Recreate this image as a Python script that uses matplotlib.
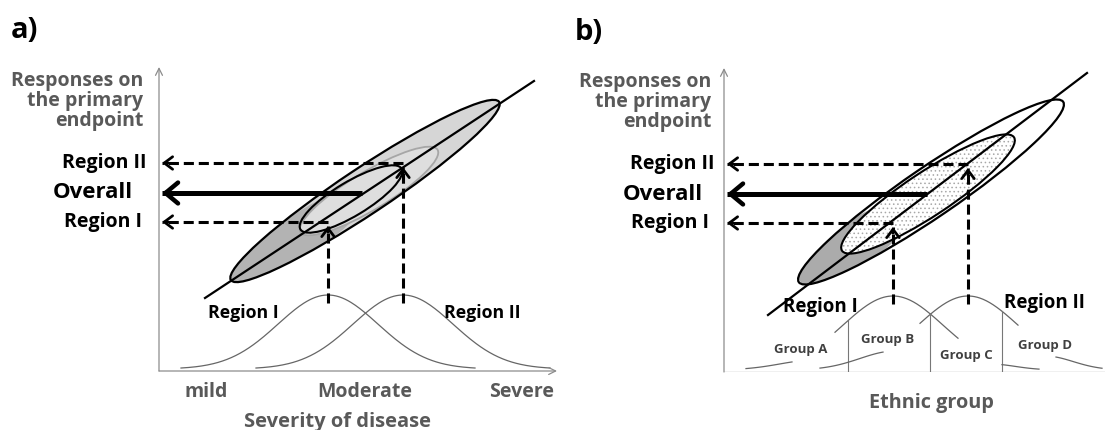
import numpy as np
import matplotlib.pyplot as plt
from matplotlib.patches import Ellipse

plt.rcParams['font.family'] = ['Open Sans', 'DejaVu Sans']
plt.rcParams['hatch.linewidth'] = 0.6

# --- values shared by both schematics (pixel units from each axis origin) ---
level_names = ['Region II', 'Overall', 'Region I']
level_y = [208, 178, 149]          # responses
peak_x = [169, 244]                # Region I / Region II means on the x axis
curve_sigma = 50
curve_height = 74
curve_base = 2
overall_end = 203

# --- panel a: severity of disease ---
sev_ticks = ['mild', 'Moderate', 'Severe']
sev_tick_x = [47, 206, 363]
a_line_x = [46, 375]
a_line_y = [73, 290]
a_curve_span = 147
# ellipses: centre x, centre y, width, height, angle
a_big = (206, 180, 322, 46, 33.6)
a_dark = (142, 136, 165, 42, 33.6)
a_reg2 = (210, 180, 160, 38, 31)
a_reg1 = (192, 172, 118, 34, 31)

# --- panel b: ethnic group ---
b_line_x = [44, 363]
b_line_y = [57, 299]
b_big = (207, 180, 320, 50, 34.3)
b_gray = (134, 130, 140, 44, 34.3)
b_inner = (204, 178, 206, 44, 33.4)
b_region_ranges = [(111, 234), (196, 294)]
group_names = ['Group A', 'Group B', 'Group C', 'Group D']
group_label_x = [77, 164, 242, 321]
group_label_y = [23, 32, 16, 27]
group_bounds = [124, 206, 278]
# visible tails of the group curves: centre, sigma, height, from, to
group_tails = [(91, 35, 10, 22, 68), (171, 35, 19, 96, 159),
               (266, 25, 6, 278, 315), (321, 28, 14, 332, 378)]

TXT = '#595959'
DASH = (0, (3.3, 1.6))


def gauss(x, c, s, h):
    return curve_base + h * np.exp(-(x - c) ** 2 / (2 * s ** 2))


def arrow(ax, start, end, lw, dashed, hl, hw):
    ax.plot([start[0], end[0]], [start[1], end[1]], color='black', lw=lw,
            ls=DASH if dashed else '-', solid_capstyle='butt', dash_capstyle='butt')
    d = np.subtract(end, start)
    d = d / np.hypot(*d)
    back = (end[0] - 6 * d[0], end[1] - 6 * d[1])
    ax.annotate('', xy=end, xytext=back,
                arrowprops=dict(arrowstyle=f'->,head_length={hl},head_width={hw}',
                                lw=lw * 0.9, color='black', shrinkA=0, shrinkB=0))


def axis_frame(ax, w, h, x_arrow):
    style = dict(color='#8c8c8c', lw=0.9, shrinkA=0, shrinkB=0)
    ax.annotate('', xy=(0, h), xytext=(0, 0),
                arrowprops=dict(arrowstyle='->,head_length=0.5,head_width=0.25', **style))
    if x_arrow:
        ax.annotate('', xy=(w, 0), xytext=(0, 0),
                    arrowprops=dict(arrowstyle='->,head_length=0.5,head_width=0.25', **style))
    else:
        ax.plot([0, w], [0, 0], color='#8c8c8c', lw=0.9)


def response_side(ax, right_x, letter, letter_x):
    ax.text(right_x[0], 270, 'Responses on\nthe primary\nendpoint', ha='right', va='center',
            multialignment='right', fontsize=14, fontweight='bold', color=TXT, linespacing=1.0)
    sizes = [14, 16, 14]
    for name, y, rx, fs in zip(level_names, level_y, right_x[1:], sizes):
        ax.text(rx, y, name, ha='right', va='center', fontsize=fs, fontweight='bold', color='black')
    ax.text(letter_x, 340, letter, ha='left', va='center', fontsize=21, fontweight='bold')
    # arrows back to the response axis
    for px, ly in zip(peak_x, [level_y[2], level_y[0]]):
        arrow(ax, (px, 68), (px, ly - 4), 2.2, True, 0.6, 0.45)
        arrow(ax, (px, ly), (3, ly), 2.2, True, 0.6, 0.45)
    arrow(ax, (overall_end, level_y[1]), (3, level_y[1]), 3.6, False, 0.9, 0.75)


def ellipse(ax, p, **kw):
    e = Ellipse((p[0], p[1]), p[2], p[3], angle=p[4], **kw)
    ax.add_patch(e)
    return e


fig = plt.figure(figsize=(11.1, 4.3), dpi=100)

# ---------------- panel a ----------------
ax = fig.add_axes([159 / 1110, 59 / 430, 398 / 1110, 304 / 430])
ax.set_xlim(0, 398)
ax.set_ylim(0, 304)
ax.set_axis_off()
axis_frame(ax, 398, 304, True)

big = ellipse(ax, a_big, fc='#d6d6d6', ec='none', zorder=1)
dark = ellipse(ax, a_dark, fc='#b3b3b3', ec='none', zorder=1.1)
dark.set_clip_path(big)
ellipse(ax, a_reg2, fc='#dedede', ec='#a6a6a6', lw=1.3, zorder=1.2)
ellipse(ax, a_reg1, fc='none', ec='black', lw=1.5, zorder=1.3)
ellipse(ax, a_big, fc='none', ec='black', lw=1.6, zorder=1.4)
ax.plot(a_line_x, a_line_y, color='black', lw=1.6, zorder=1.5)

for px in peak_x:
    xs = np.linspace(px - a_curve_span, px + a_curve_span, 200)
    ax.plot(xs, gauss(xs, px, curve_sigma, curve_height), color='#666666', lw=0.9)

response_side(ax, [-16, -12, -26, -17], 'a)', -148)
ax.text(84, 58, 'Region I', ha='center', va='center', fontsize=12.8, fontweight='bold')
ax.text(323, 58, 'Region II', ha='center', va='center', fontsize=12.8, fontweight='bold')
for t, x in zip(sev_ticks, sev_tick_x):
    ax.text(x, -21, t, ha='center', va='center', fontsize=14, fontweight='bold', color=TXT)
ax.text(178, -51, 'Severity of disease', ha='center', va='center', fontsize=14.5,
        fontweight='bold', color=TXT)

# ---------------- panel b ----------------
bx = fig.add_axes([724 / 1110, 58 / 430, 381 / 1110, 304 / 430])
bx.set_xlim(0, 381)
bx.set_ylim(0, 304)
bx.set_axis_off()
axis_frame(bx, 381, 304, False)

big_b = ellipse(bx, b_big, fc='white', ec='none', zorder=1)
gray_b = ellipse(bx, b_gray, fc='#ababab', ec='none', zorder=1.1)
gray_b.set_clip_path(big_b)
ellipse(bx, b_inner, fc='white', ec='none', zorder=1.2)
ellipse(bx, b_inner, fc='none', ec='#a8a8a8', lw=0, hatch='....', zorder=1.25)
ellipse(bx, b_inner, fc='none', ec='black', lw=1.5, zorder=1.3)
ellipse(bx, b_big, fc='none', ec='black', lw=1.6, zorder=1.4)
bx.plot(b_line_x, b_line_y, color='black', lw=1.6, zorder=1.5)

for px, (x0, x1) in zip(peak_x, b_region_ranges):
    xs = np.linspace(x0, x1, 150)
    bx.plot(xs, gauss(xs, px, curve_sigma, curve_height), color='#666666', lw=0.9)
for gb in group_bounds:
    top = max(gauss(gb, px, curve_sigma, curve_height) for px in peak_x)
    bx.plot([gb, gb], [0, top], color='#777777', lw=0.8)
for c, s, h, x0, x1 in group_tails:
    xs = np.linspace(x0, x1, 80)
    bx.plot(xs, gauss(xs, c, s, h), color='#666666', lw=0.9)
for g, x, y in zip(group_names, group_label_x, group_label_y):
    bx.text(x, y, g, ha='center', va='center', fontsize=9.5, fontweight='bold', color='#404040')

response_side(bx, [-13, -10, -21, -15], 'b)', -149)
bx.text(96, 65, 'Region I', ha='center', va='center', fontsize=13.5, fontweight='bold')
bx.text(320, 69, 'Region II', ha='center', va='center', fontsize=13.5, fontweight='bold')
bx.text(207, -31, 'Ethnic group', ha='center', va='center', fontsize=14.3,
        fontweight='bold', color=TXT)

fig.savefig('out.png', dpi=100)
